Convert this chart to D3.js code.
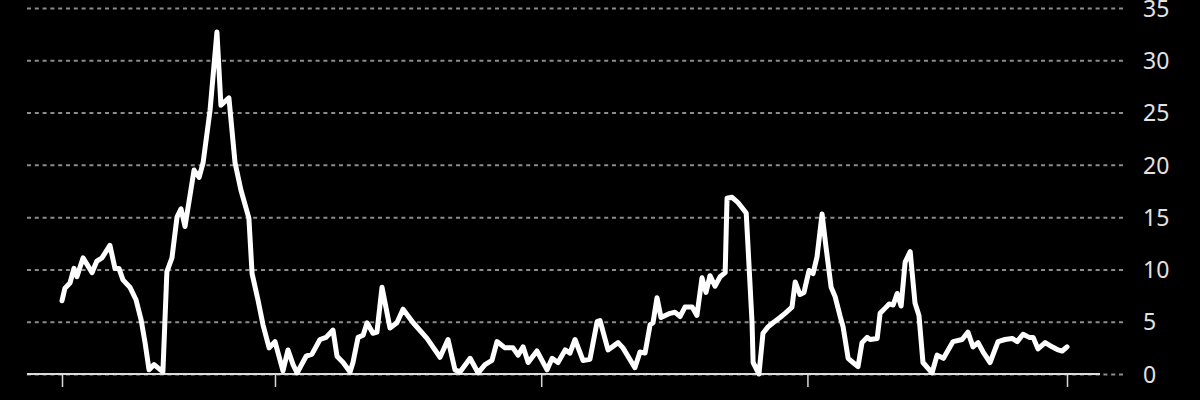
<!DOCTYPE html>
<html>
<head>
<meta charset="utf-8">
<script src="https://cdn.jsdelivr.net/npm/d3@7"></script>
<style>
	body { margin: 0; background: #000; }
	#graph { display: block; background: #000; }
	.yaxis text { font-family: "Noto Sans", sans-serif; font-size: 23px; fill: #e2e2e2; }
	.yaxis line { stroke: #8c8c8c; stroke-width: 2px; stroke-dasharray: 4, 3.8; }
	.xaxis line { stroke: #d8d8d8; stroke-width: 1.5px; }
</style>
</head>
<body>
<svg id="graph"></svg>
<script>
// decimal years and values
var dates = [1982.00, 1982.11, 1982.30, 1982.45, 1982.56, 1982.79, 1983.13, 1983.31, 1983.50, 1983.80,
	1983.99, 1984.14, 1984.29, 1984.55, 1984.78, 1984.97, 1985.12, 1985.27, 1985.46, 1985.79,
	1985.94, 1986.13, 1986.32, 1986.47, 1986.62, 1986.96, 1987.15, 1987.30, 1987.56, 1987.82,
	1987.97, 1988.27, 1988.50, 1988.72, 1989.02, 1989.14, 1989.36, 1989.55, 1989.78, 1990.00,
	1990.30, 1990.49, 1990.68, 1990.83, 1991.17, 1991.39, 1991.69, 1991.92, 1992.18, 1992.33,
	1992.56, 1992.82, 1992.93, 1993.12, 1993.31, 1993.46, 1993.68, 1993.83, 1994.02, 1994.32,
	1994.58, 1994.81, 1995.19, 1995.71, 1996.20, 1996.50, 1996.76, 1996.95, 1997.33, 1997.63,
	1997.89, 1998.15, 1998.34, 1998.64, 1998.94, 1999.13, 1999.32, 1999.51, 1999.84, 2000.22,
	2000.41, 2000.63, 2000.90, 2001.08, 2001.27, 2001.57, 2001.83, 2002.10, 2002.21, 2002.51,
	2002.89, 2003.07, 2003.52, 2003.71, 2003.90, 2004.09, 2004.20, 2004.35, 2004.50, 2004.84,
	2005.03, 2005.22, 2005.40, 2005.67, 2005.85, 2006.04, 2006.19, 2006.34, 2006.53, 2006.72,
	2006.91, 2006.98, 2007.17, 2007.39, 2007.70, 2007.77, 2007.92, 2007.96, 2008.18, 2008.33,
	2008.52, 2008.71, 2008.97, 2009.16, 2009.42, 2009.54, 2009.72, 2009.87, 2010.06, 2010.21,
	2010.36, 2010.55, 2010.70, 2010.89, 2011.04, 2011.23, 2011.34, 2011.53, 2011.71, 2011.90,
	2012.05, 2012.24, 2012.35, 2012.62, 2012.73, 2012.92, 2013.07, 2013.22, 2013.37, 2013.52,
	2013.67, 2013.86, 2014.04, 2014.19, 2014.34, 2014.68, 2014.87, 2015.11, 2015.47, 2015.81,
	2016.03, 2016.22, 2016.41, 2016.60, 2016.86, 2017.16, 2017.42, 2017.69, 2017.88, 2018.10,
	2018.33, 2018.48, 2018.66, 2018.93, 2019.19, 2019.42, 2019.57, 2019.75];

var values = [7.0, 8.2, 8.7, 10.1, 9.3, 11.1, 9.7, 10.8, 11.1, 12.3,
	10.1, 10.1, 9.0, 8.3, 7.1, 5.2, 3.0, 0.4, 0.9, 0.2,
	9.8, 11.1, 15.0, 15.8, 14.1, 19.5, 18.8, 20.2, 25.2, 32.7,
	25.7, 26.4, 20.2, 17.6, 14.9, 9.6, 7.1, 4.7, 2.5, 3.1,
	0.3, 2.3, 0.9, 0.1, 1.7, 1.9, 3.3, 3.5, 4.2, 1.7,
	1.1, 0.2, 1.1, 3.5, 3.7, 4.9, 3.9, 4.0, 8.3, 4.4,
	4.9, 6.2, 4.9, 3.4, 1.6, 3.3, 0.4, 0.2, 1.5, 0.1,
	0.9, 1.3, 3.1, 2.5, 2.5, 1.8, 2.6, 1.1, 2.2, 0.4,
	1.5, 1.1, 2.3, 2.0, 3.3, 1.3, 1.4, 5.0, 5.1, 2.3,
	3.0, 2.5, 0.6, 2.1, 2.0, 4.7, 4.9, 7.3, 5.4, 5.8,
	5.9, 5.5, 6.4, 6.4, 5.6, 9.2, 7.8, 9.4, 8.4, 9.3,
	9.7, 16.8, 16.9, 16.4, 15.4, 12.1, 4.9, 1.1, 0.0, 3.9,
	4.5, 4.9, 5.4, 5.8, 6.4, 8.8, 7.6, 7.8, 9.9, 9.6,
	11.2, 15.3, 12.1, 8.3, 7.4, 5.5, 4.5, 1.5, 1.1, 0.7,
	3.0, 3.5, 3.3, 3.4, 5.8, 6.3, 6.7, 6.6, 7.7, 6.5,
	10.7, 11.7, 6.8, 5.6, 1.1, 0.1, 1.8, 1.5, 3.1, 3.3,
	4.0, 2.6, 3.0, 2.1, 1.1, 3.1, 3.3, 3.4, 3.1, 3.8,
	3.5, 3.5, 2.4, 3.0, 2.6, 2.3, 2.2, 2.6];

var yTicks = [0, 5, 10, 15, 20, 25, 30, 35],
	xTicks = [1982, 1990, 2000, 2010, 2019.75];

document.addEventListener("DOMContentLoaded", function(event) {
	var width = 1200,
		height = 400,
		graph = d3.select("#graph").attr("width", width).attr("height", height);

	var x = d3.scaleLinear().domain([1982, 2019.75]).range([62, 1067]),
		y = d3.scaleLinear().domain([0, 35]).range([374, 8]);

	var left = 27, gridRight = 1124, zeroRight = 1100;

	//grid + labels on the right
	var yAxis = d3.axisRight(y)
		.tickValues(yTicks)
		.tickSize(gridRight - left)
		.tickPadding(19);

	graph.append("g")
		.attr("class", "axis yaxis")
		.attr("transform", "translate(" + left + ", 0)")
		.call(yAxis)
		.call(function(g) { g.select(".domain").remove(); })
		.selectAll("text")
			.attr("dy", "0.36em");

	//zero line
	graph.append("line")
		.attr("x1", left)
		.attr("x2", zeroRight)
		.attr("y1", y(0))
		.attr("y2", y(0))
		.attr("stroke", "#dcdcdc")
		.attr("stroke-width", 2);

	//x ticks, no labels
	var xAxis = d3.axisBottom(x)
		.tickValues(xTicks)
		.tickFormat("")
		.tickSize(12);

	graph.append("g")
		.attr("class", "axis xaxis")
		.attr("transform", "translate(0, " + (y(0) + 1) + ")")
		.call(xAxis)
		.call(function(g) { g.select(".domain").remove(); });

	var data = dates.map(function(d, i) { return {date: d, value: values[i]}; });

	var line = d3.line()
		.x(function(d) { return x(d.date); })
		.y(function(d) { return y(d.value); });

	graph.append("path")
		.datum(data)
		.attr("fill", "none")
		.attr("stroke", "#fff")
		.attr("stroke-width", 5)
		.attr("stroke-linejoin", "round")
		.attr("stroke-linecap", "round")
		.attr("d", line);
});
</script>
</body>
</html>
